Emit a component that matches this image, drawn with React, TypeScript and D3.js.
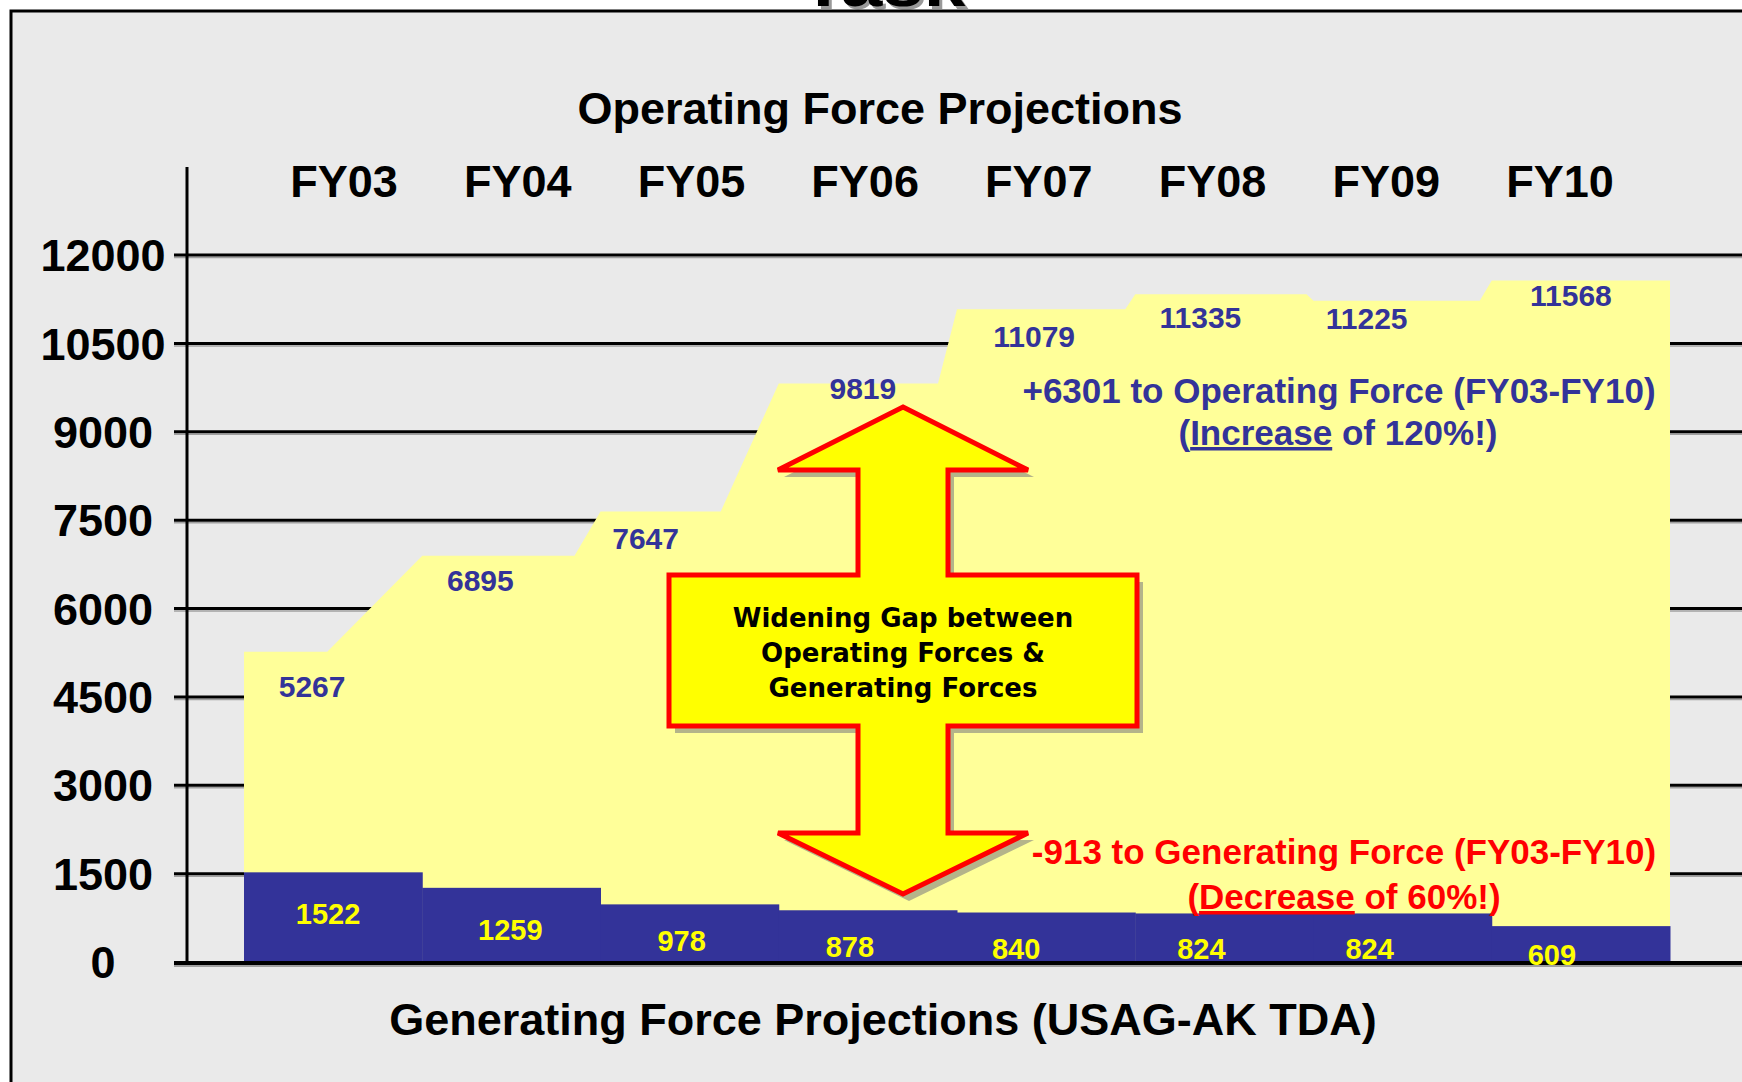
import React from 'react';
import * as d3 from 'd3';

// ---------- data ----------
const years = ['FY03', 'FY04', 'FY05', 'FY06', 'FY07', 'FY08', 'FY09', 'FY10'];
const operatingForce = [5267, 6895, 7647, 9819, 11079, 11335, 11225, 11568];
const generatingForce = [1522, 1259, 978, 878, 840, 824, 824, 609];
const yTicks = [0, 1500, 3000, 4500, 6000, 7500, 9000, 10500, 12000];

const titleTop = 'Operating Force Projections';
const titleBottom = 'Generating Force Projections (USAG-AK TDA)';
const arrowLines = ['Widening Gap between', 'Operating Forces &', 'Generating Forces'];

// ---------- style / layout ----------
const W = 1742;
const H = 1082;
const FONT = '"Liberation Sans", Arial, Helvetica, sans-serif';
const VFONT = '"DejaVu Sans", Verdana, sans-serif';
const NAVY = '#333399';
const PALE = '#FFFF99';
const BG = '#EAEAEA';

// ramp widths (px) of the transitions between steps of the operating-force area
const ramps = [95, 26, 58, 19, 10, 7, 12];
// label nudges
const opLabelDx = [-21, -31, -44, -5, -12, -24, -36, -10];
const opLabelDy = [45, 35, 38, 16, 38, 34, 28, 26];
const genLabelDx = [-5, -1, -8, -18, -30, -23, -33, -29];
const genLabelRise = [38, 22, 11, 5, 3, 3, 3, -3];

export default function App() {
  const y = d3.scaleLinear().domain([0, 12000]).range([962, 255]);
  const x = d3.scaleBand<string>().domain(years).range([244, 1670]).padding(0);
  const xTop = d3.scalePoint<string>().domain(years).range([344, 1560]);
  const bw = x.bandwidth();
  const x0 = x(years[0]) as number;
  const xEnd = (x(years[years.length - 1]) as number) + bw;

  // operating force area
  const pts: [number, number][] = [[x0, y(0)], [x0, y(operatingForce[0])]];
  for (let i = 0; i < years.length - 1; i++) {
    const bx1 = (x(years[i]) as number) + bw;
    pts.push([bx1 - ramps[i], y(operatingForce[i])]);
    pts.push([bx1, y(operatingForce[i + 1])]);
  }
  pts.push([xEnd, y(operatingForce[operatingForce.length - 1])]);
  pts.push([xEnd, y(0)]);
  const areaPath = (d3.line()(pts) as string) + 'Z';

  // double arrow geometry
  const cx = 903;
  const tipTop = 407, headTop = 470, boxTop = 575, boxBot = 726, headBot = 833, tipBot = 894;
  const headHalf = 125, shaftHalf = 45, boxHalf = 234;
  const arrow: [number, number][] = [
    [cx, tipTop],
    [cx + headHalf, headTop],
    [cx + shaftHalf, headTop],
    [cx + shaftHalf, boxTop],
    [cx + boxHalf, boxTop],
    [cx + boxHalf, boxBot],
    [cx + shaftHalf, boxBot],
    [cx + shaftHalf, headBot],
    [cx + headHalf, headBot],
    [cx, tipBot],
    [cx - headHalf, headBot],
    [cx - shaftHalf, headBot],
    [cx - shaftHalf, boxBot],
    [cx - boxHalf, boxBot],
    [cx - boxHalf, boxTop],
    [cx - shaftHalf, boxTop],
    [cx - shaftHalf, headTop],
    [cx - headHalf, headTop],
  ];
  const arrowPath = (d3.line()(arrow) as string) + 'Z';

  return (
    <svg
      width={W}
      height={H}
      viewBox={`0 0 ${W} ${H}`}
      style={{ position: 'absolute', left: 0, top: 0, display: 'block' }}
    >
      <rect x={0} y={0} width={W} height={H} fill="#FFFFFF" />
      {/* clipped heading above frame */}
      <text x={886} y={9} textAnchor="middle" fontFamily={FONT} fontWeight="bold" fontSize={66} fill="#999999" textLength={165} lengthAdjust="spacingAndGlyphs">Task</text>
      <text x={883} y={6} textAnchor="middle" fontFamily={FONT} fontWeight="bold" fontSize={66} fill="#000000" textLength={165} lengthAdjust="spacingAndGlyphs">Task</text>
      {/* frame */}
      <rect x={11} y={11} width={W + 20} height={H + 20} fill={BG} stroke="#000" strokeWidth={3} />

      {/* titles */}
      <text x={880} y={124} textAnchor="middle" fontFamily={FONT} fontWeight="bold" fontSize={45} fill="#000">{titleTop}</text>
      {years.map((yr) => (
        <text key={yr} x={xTop(yr)} y={197} textAnchor="middle" fontFamily={FONT} fontWeight="bold" fontSize={45} fill="#000">{yr}</text>
      ))}

      {/* gridlines */}
      {yTicks.filter((t) => t > 0).map((t) => (
        <g key={t}>
          <line x1={174} x2={W} y1={y(t) + 2.5} y2={y(t) + 2.5} stroke="#A0A0A0" strokeWidth={1.5} />
          <line x1={174} x2={W} y1={y(t)} y2={y(t)} stroke="#000" strokeWidth={3} />
        </g>
      ))}
      {/* y tick labels */}
      {yTicks.map((t) => (
        <text key={t} x={103} y={y(t)} dy="0.36em" textAnchor="middle" fontFamily={FONT} fontWeight="bold" fontSize={45} fill="#000">{t}</text>
      ))}
      {/* y axis line */}
      <line x1={187} x2={187} y1={167} y2={y(0)} stroke="#000" strokeWidth={3} />

      {/* operating force area */}
      <path d={areaPath} fill={PALE} />

      {/* generating force bars */}
      {years.map((yr, i) => (
        <rect key={yr} x={x(yr)} y={y(generatingForce[i])} width={bw + 0.5} height={y(0) - y(generatingForce[i])} fill={NAVY} />
      ))}

      {/* baseline */}
      <line x1={174} x2={W} y1={y(0) + 4} y2={y(0) + 4} stroke="#A0A0A0" strokeWidth={2} />
      <line x1={174} x2={W} y1={y(0) + 1} y2={y(0) + 1} stroke="#000" strokeWidth={4} />

      {/* operating labels */}
      {years.map((yr, i) => (
        <text key={yr} x={(x(yr) as number) + bw / 2 + opLabelDx[i]} y={y(operatingForce[i]) + opLabelDy[i]} textAnchor="middle" fontFamily={FONT} fontWeight="bold" fontSize={30} fill={NAVY}>{operatingForce[i]}</text>
      ))}
      {/* generating labels */}
      {years.map((yr, i) => (
        <text key={yr} x={(x(yr) as number) + bw / 2 + genLabelDx[i]} y={y(0) - genLabelRise[i]} textAnchor="middle" fontFamily={FONT} fontWeight="bold" fontSize={29} fill="#FFFF00">{generatingForce[i]}</text>
      ))}

      {/* double arrow */}
      <path d={arrowPath} transform="translate(6,7)" fill="#B4B48A" />
      <path d={arrowPath} fill="#FFFF00" stroke="#FF0000" strokeWidth={5} strokeLinejoin="miter" />
      {arrowLines.map((l, i) => (
        <text key={l} x={cx} y={627 + i * 35} textAnchor="middle" fontFamily={VFONT} fontWeight="bold" fontSize={26} fill="#000">{l}</text>
      ))}

      {/* annotations */}
      <text x={1339} y={403} textAnchor="middle" fontFamily={FONT} fontWeight="bold" fontSize={35} fill={NAVY}>+6301 to Operating Force (FY03-FY10)</text>
      <text x={1338} y={445} textAnchor="middle" fontFamily={FONT} fontWeight="bold" fontSize={35} fill={NAVY}>
        (<tspan style={{ textDecoration: 'underline' }}>Increase</tspan> of 120%!)
      </text>
      <text x={1344} y={864} textAnchor="middle" fontFamily={FONT} fontWeight="bold" fontSize={35} fill="#FF0000">-913 to Generating Force (FY03-FY10)</text>
      <text x={1344} y={909} textAnchor="middle" fontFamily={FONT} fontWeight="bold" fontSize={35} fill="#FF0000">
        (<tspan style={{ textDecoration: 'underline' }}>Decrease</tspan> of 60%!)
      </text>

      {/* bottom title */}
      <text x={883} y={1035} textAnchor="middle" fontFamily={FONT} fontWeight="bold" fontSize={45} fill="#000">{titleBottom}</text>
    </svg>
  );
}
